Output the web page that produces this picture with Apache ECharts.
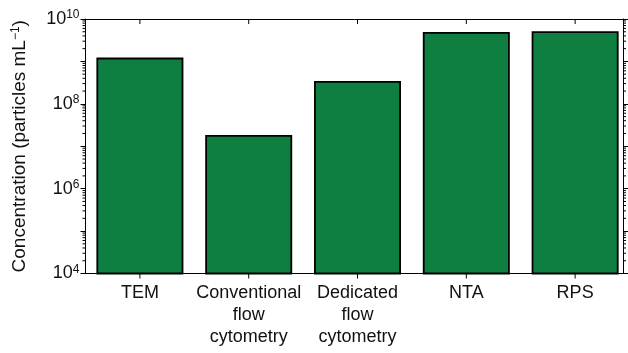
<!DOCTYPE html>
<html>
<head>
<meta charset="utf-8">
<script src="https://cdn.jsdelivr.net/npm/echarts@6/dist/echarts.min.js"></script>
<style>html,body{margin:0;padding:0;background:#fff}#c{width:628px;height:353px}</style>
</head>
<body>
<div id="c"></div>
<script>
const categories = ['TEM', 'Conventional\nflow\ncytometry', 'Dedicated\nflow\ncytometry', 'NTA', 'RPS'];
const concentrations = [1.23e9, 1.85e7, 3.46e8, 4.94e9, 5.13e9];
const categoryPositions = [0, 1, 2, 3, 4];
const yMin = 1e4, yMax = 1e10;
const xMin = -0.5, xMax = 4.44;
const minorMantissas = [2, 3, 4, 5, 6, 7, 8, 9];
const minorExponents = [4, 5, 6, 7, 8, 9];
const minorTickValues = [];
minorExponents.forEach(e => minorMantissas.forEach(m => minorTickValues.push(m * Math.pow(10, e))));

const FONT = 'Liberation Sans';
const chart = echarts.init(document.getElementById('c'));
const axisLine = {show: true, onZero: false, lineStyle: {color: '#000', width: 1}};
const st = {stroke: '#000', lineWidth: 1};

chart.setOption({
  animation: false,
  grid: {left: 85.5, right: 5, top: 19, bottom: 79.5, containLabel: false},
  xAxis: [{
    type: 'value', min: xMin, max: xMax, position: 'bottom',
    axisLine: axisLine,
    splitLine: {show: false},
    axisTick: {show: false},
    axisLabel: {
      show: true, customValues: categoryPositions, margin: 9,
      fontFamily: FONT, fontSize: 18, color: '#111', lineHeight: 22,
      formatter: v => categories[Math.round(v)]
    }
  }, {
    type: 'value', min: xMin, max: xMax, position: 'top',
    axisLine: axisLine,
    splitLine: {show: false},
    axisTick: {show: false},
    axisLabel: {show: false}
  }],
  yAxis: [{
    type: 'log', logBase: 10, min: yMin, max: yMax, position: 'left',
    axisLine: axisLine,
    splitLine: {show: false},
    axisTick: {show: true, length: 5, lineStyle: {color: '#000'}},
    axisLabel: {
      margin: 6,
      formatter: v => {
        const e = Math.round(Math.log10(v));
        return e % 2 === 0 ? '{b|10}{s|' + e + '}' : '';
      },
      rich: {
        b: {fontFamily: FONT, fontSize: 18, color: '#111'},
        s: {fontFamily: FONT, fontSize: 12, color: '#111', verticalAlign: 'top', padding: [0, 0, 8, 0]}
      }
    },
    name: 'Concentration (particles mL{s|−1})',
    nameLocation: 'middle', nameGap: 55, nameRotate: 90,
    nameTextStyle: {
      fontFamily: FONT, fontSize: 19, color: '#111',
      rich: {s: {fontFamily: FONT, fontSize: 12, color: '#111', padding: [0, 0, 9, 0]}}
    }
  }, {
    type: 'log', logBase: 10, min: yMin, max: yMax, position: 'right',
    axisLine: axisLine,
    splitLine: {show: false},
    axisTick: {show: true, length: 5, lineStyle: {color: '#000'}},
    axisLabel: {show: false}
  }],
  series: [{
    type: 'bar', xAxisIndex: 0, yAxisIndex: 0,
    barWidth: 87,
    data: categoryPositions.map((p, i) => [p, concentrations[i]]),
    itemStyle: {color: '#0e7f41', borderColor: '#000', borderWidth: 1.8}
  }, {
    type: 'custom', xAxisIndex: 0, yAxisIndex: 0, silent: true, clip: false, z: 5,
    data: minorTickValues.map(v => [xMin, v]),
    encode: {x: 0, y: 1},
    renderItem: (params, api) => {
      const v = api.value(1);
      const l = api.coord([xMin, v]);
      const r = api.coord([xMax, v]);
      return {type: 'group', children: [
        {type: 'line', shape: {x1: l[0] - 3, y1: l[1], x2: l[0], y2: l[1]}, style: st},
        {type: 'line', shape: {x1: r[0], y1: r[1], x2: r[0] + 3, y2: r[1]}, style: st}
      ]};
    }
  }, {
    type: 'custom', xAxisIndex: 0, yAxisIndex: 0, silent: true, clip: false, z: 5,
    data: categoryPositions.map(p => [p, yMin]),
    encode: {x: 0, y: 1},
    renderItem: (params, api) => {
      const p = api.value(0);
      const b = api.coord([p, yMin]);
      const t = api.coord([p, yMax]);
      return {type: 'group', children: [
        {type: 'line', shape: {x1: b[0], y1: b[1], x2: b[0], y2: b[1] + 5}, style: st},
        {type: 'line', shape: {x1: t[0], y1: t[1], x2: t[0], y2: t[1] + 5}, style: st}
      ]};
    }
  }]
});
</script>
</body>
</html>
